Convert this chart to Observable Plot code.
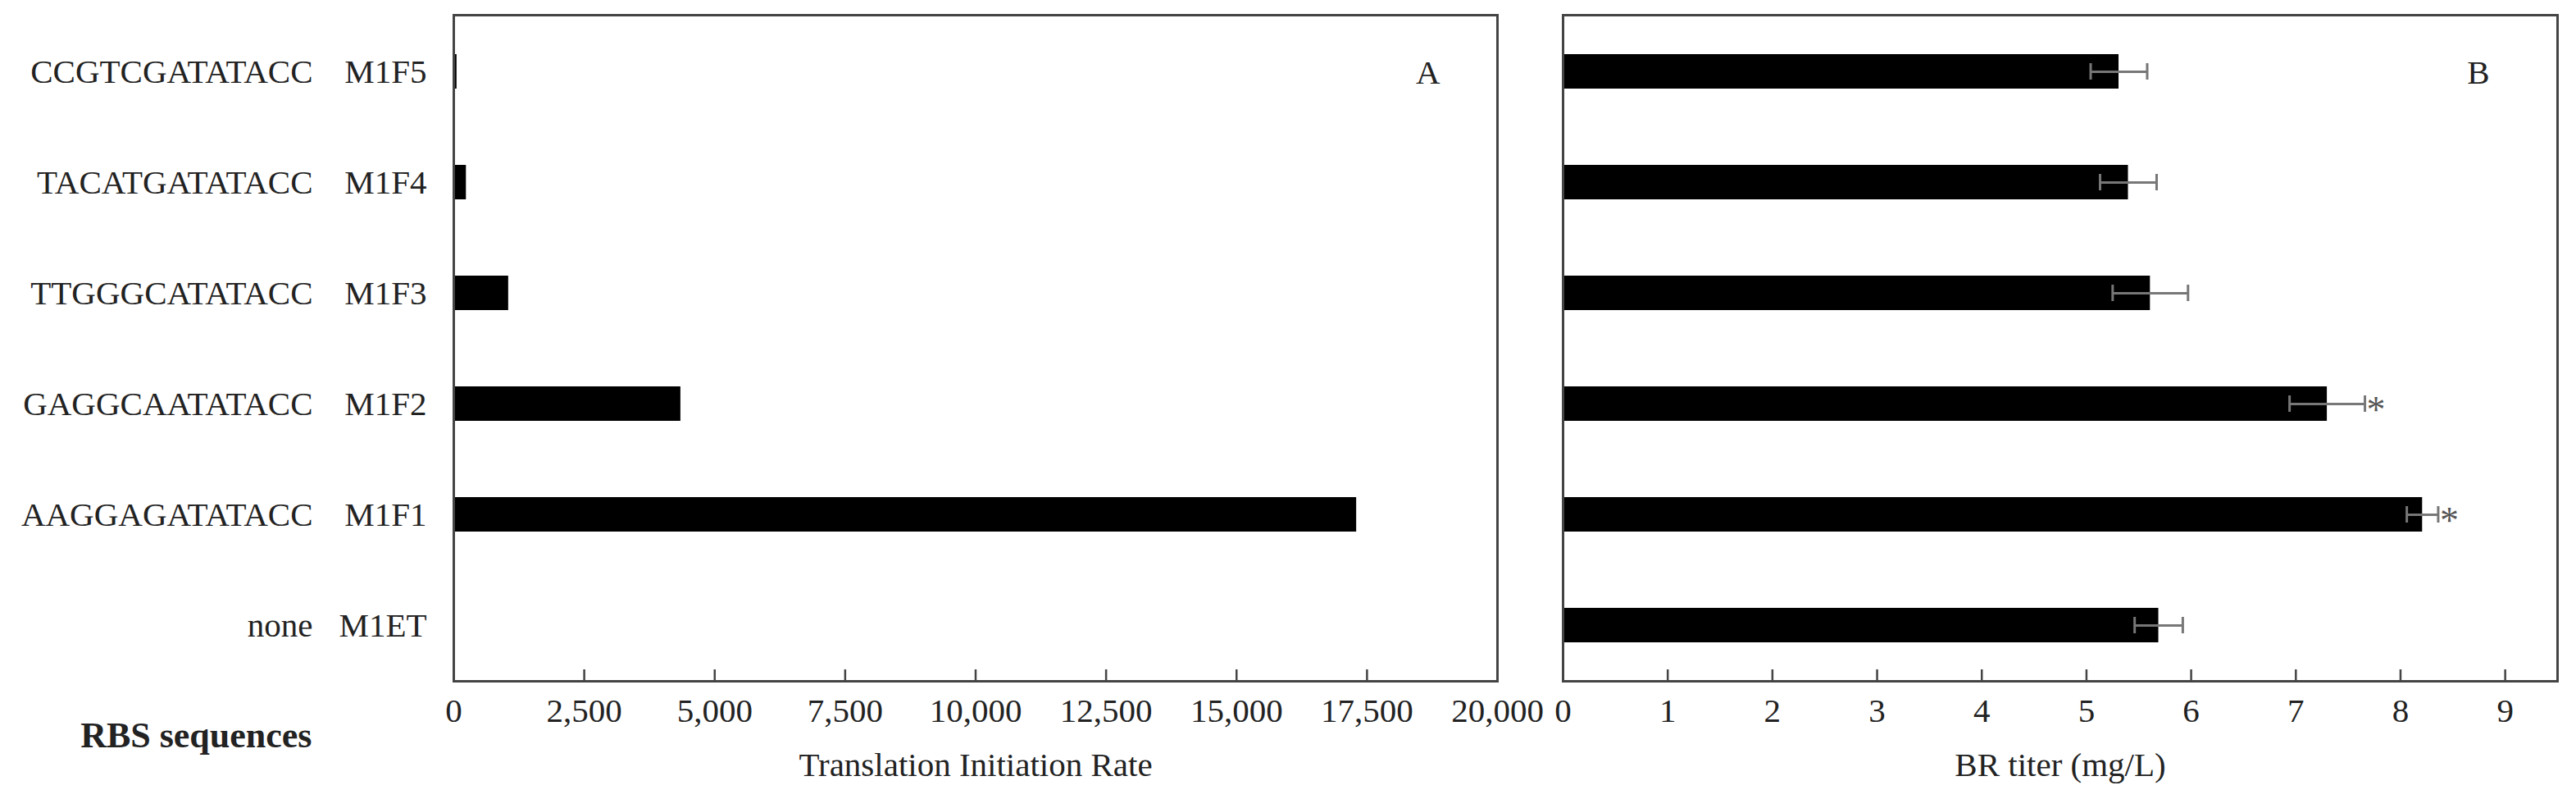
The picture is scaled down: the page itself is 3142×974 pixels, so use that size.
<!DOCTYPE html>
<html>
<head>
<meta charset="utf-8">
<script src="https://cdn.jsdelivr.net/npm/d3@7"></script>
<script src="https://cdn.jsdelivr.net/npm/@observablehq/plot@0.6"></script>
<style>
  body { margin: 0; background: white; }
  #chart { display: flex; flex-direction: row; }
  #chart svg { overflow: visible; }
</style>
</head>
<body>
<div id="chart"></div>
<script>
// strains, top to bottom on the chart
const names = ["M1F5", "M1F4", "M1F3", "M1F2", "M1F1", "M1ET"]
const sequences = ["CCGTCGATATACC", "TACATGATATACC", "TTGGGCATATACC", "GAGGCAATATACC", "AAGGAGATATACC", "none"]
// panel A: translation initiation rate
const tir = [60, 240, 1050, 4350, 17300, 0]
// panel B: BR titer (mg/L) with error
const titer = [5.31, 5.40, 5.61, 7.30, 8.21, 5.69]
const titerErr = [0.27, 0.27, 0.36, 0.36, 0.15, 0.23]
const stars = ["", "", "", "*", "*", ""]

const tirTicks = d3.range(0, 20001, 2500)
const titerTicks = d3.range(0, 10, 1)

const data = names.map((n, i) => ({
  name: n,
  seq: sequences[i],
  tir: tir[i],
  titer: titer[i],
  err: titerErr[i],
  star: stars[i]
}))

const ink = "#222"
const frameInk = "#444"
const yScale = {domain: names, paddingInner: 0.69, paddingOuter: 0.345, axis: null}
// no svg background, so the "20,000" label can spill over into the next panel
const baseStyle = {fontFamily: "'Liberation Serif', 'Times New Roman', serif", fontSize: "41px", color: ink, background: "none", overflow: "visible"}

let left = Plot.plot({
  width: 1866,
  height: 974,
  marginLeft: 553,
  marginRight: 40,
  marginTop: 18,
  marginBottom: 144,
  style: baseStyle,
  x: {domain: [0, 20000], axis: null},
  y: yScale,
  marks: [
    Plot.barX(data, {x: "tir", y: "name", fill: "black"}),
    Plot.gridX(tirTicks, {stroke: frameInk, strokeOpacity: 1, strokeWidth: 2.5, insetTop: 798}),
    Plot.frame({stroke: frameInk, strokeWidth: 3}),
    Plot.axisX({ticks: tirTicks, tickFormat: d3.format(","), tickSize: 0, tickPadding: 20, label: null}),
    Plot.axisY({tickSize: 0, tickPadding: 33, label: null}),
    Plot.axisY({tickSize: 0, tickPadding: 172, label: null, tickFormat: d => sequences[names.indexOf(d)]}),
    Plot.text(["Translation Initiation Rate"], {frameAnchor: "bottom", dy: 102, lineAnchor: "middle", fill: ink}),
    Plot.text(["RBS sequences"], {frameAnchor: "bottom-left", dx: -173, dy: 66, textAnchor: "end", lineAnchor: "middle", fontWeight: "bold", fontSize: 44, fill: ink}),
    Plot.text(["A"], {frameAnchor: "top-right", dx: -70, dy: 70, textAnchor: "end", lineAnchor: "middle", fill: ink})
  ]
})

let right = Plot.plot({
  width: 1276,
  height: 974,
  marginLeft: 40,
  marginRight: 23,
  marginTop: 18,
  marginBottom: 144,
  style: baseStyle,
  x: {domain: [0, 9.5], axis: null},
  y: yScale,
  marks: [
    Plot.barX(data, {x: "titer", y: "name", fill: "black"}),
    Plot.ruleY(data, {y: "name", x1: d => d.titer - d.err, x2: d => d.titer + d.err, stroke: "#777", strokeWidth: 3}),
    Plot.tickX(data, {x: d => d.titer - d.err, y: "name", stroke: "#777", strokeWidth: 3, insetTop: 11, insetBottom: 11}),
    Plot.tickX(data, {x: d => d.titer + d.err, y: "name", stroke: "#777", strokeWidth: 3, insetTop: 11, insetBottom: 11}),
    Plot.text(data, {x: d => d.titer + d.err, y: "name", text: "star", dx: 2, dy: 8, fontSize: 46, textAnchor: "start", lineAnchor: "middle", fill: "#555"}),
    Plot.gridX(titerTicks, {stroke: frameInk, strokeOpacity: 1, strokeWidth: 2.5, insetTop: 798}),
    Plot.frame({stroke: frameInk, strokeWidth: 3}),
    Plot.axisX({ticks: titerTicks, tickSize: 0, tickPadding: 20, label: null}),
    Plot.text(["BR titer (mg/L)"], {frameAnchor: "bottom", dy: 102, lineAnchor: "middle", fill: ink}),
    Plot.text(["B"], {frameAnchor: "top-right", dx: -83, dy: 70, textAnchor: "end", lineAnchor: "middle", fill: ink})
  ]
})

d3.select("#chart").append(() => left)
d3.select("#chart").append(() => right)
</script>
</body>
</html>
